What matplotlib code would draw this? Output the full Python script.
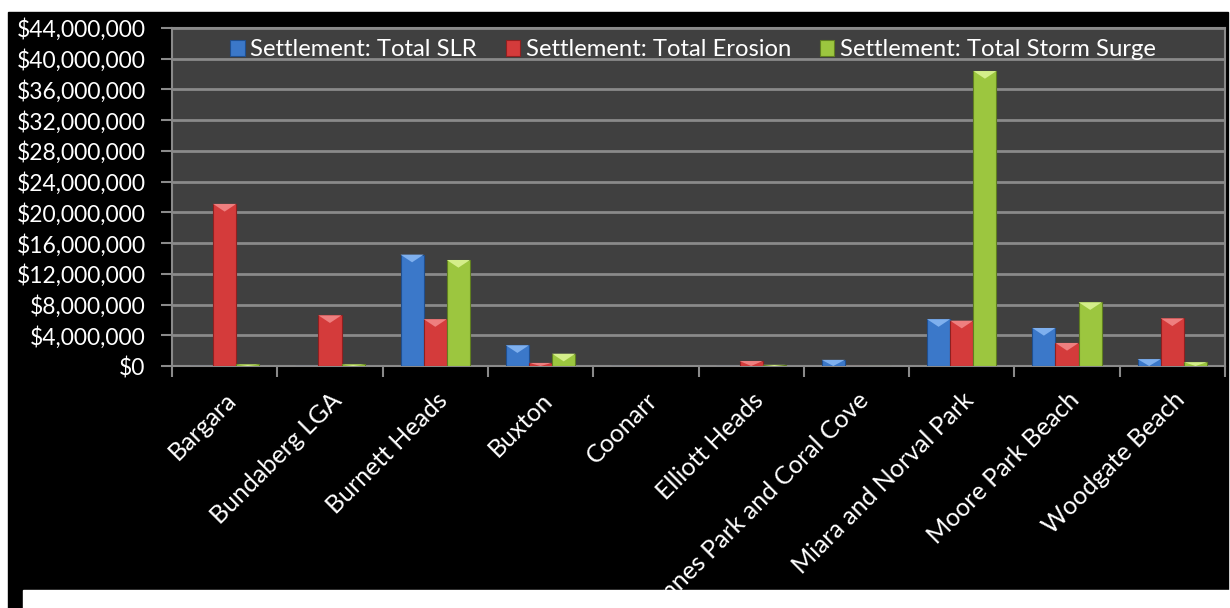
import numpy as np
import matplotlib.pyplot as plt
from matplotlib.patches import Rectangle, Polygon
from matplotlib.ticker import FuncFormatter, MultipleLocator
from matplotlib.transforms import ScaledTranslation

places = ['Bargara', 'Bundaberg LGA', 'Burnett Heads', 'Buxton', 'Coonarr',
          'Elliott Heads', 'Innes Park and Coral Cove', 'Miara and Norval Park',
          'Moore Park Beach', 'Woodgate Beach']
slr = [0, 0, 14.5e6, 2.7e6, 0, 0, 0.8e6, 6.1e6, 4.95e6, 0.9e6]
erosion = [21.1e6, 6.6e6, 6.1e6, 0.4e6, 0, 0.65e6, 0, 5.9e6, 3.0e6, 6.2e6]
surge = [0.2e6, 0.2e6, 13.8e6, 1.6e6, 0, 0.15e6, 0, 38.4e6, 8.3e6, 0.5e6]
names = ['Settlement: Total SLR', 'Settlement: Total Erosion', 'Settlement: Total Storm Surge']
colors = ['#3b78c9', '#d43b3b', '#9cc63f']
tops = ['#7fb0ee', '#ee7f7f', '#d4ee8a']
edges = ['#1f4f8f', '#8f2020', '#607f20']

plt.rcParams['font.family'] = ['Lato', 'DejaVu Sans']

fig = plt.figure(figsize=(12.3, 6.08), dpi=100, facecolor='white')
# black backdrop as in the screenshot
fig.patches.append(Rectangle((8 / 1230, 0), 1220 / 1230, 1 - 12 / 608,
                             transform=fig.transFigure, color='black', zorder=-2))
fig.patches.append(Rectangle((23 / 1230, 0), 1 - 23 / 1230, 18 / 608,
                             transform=fig.transFigure, color='white', zorder=-1))

ax = fig.add_axes([172 / 1230, 1 - 366 / 608, 1053 / 1230, 338 / 608])
ax.set_facecolor('#404040')

x = np.arange(len(places))
w = 0.22
depth = 1.0e6
for i, (vals, c, tc, ec, n) in enumerate(zip([slr, erosion, surge], colors, tops, edges, names)):
    bars = ax.bar(x + (i - 1) * w, vals, w, color=c, edgecolor=ec, linewidth=0.8,
                  label=n, zorder=3)
    # bevelled top like the Excel style
    for b in bars:
        h = b.get_height()
        if h <= 0:
            continue
        d = min(depth, h)
        x0, bw = b.get_x(), b.get_width()
        ax.add_patch(Polygon([(x0, h), (x0 + bw, h), (x0 + bw / 2, h - d)],
                             closed=True, color=tc, zorder=4, linewidth=0))

ax.set_xlim(-0.5, len(places) - 0.5)
ax.set_ylim(0, 44e6)
ax.yaxis.set_major_locator(MultipleLocator(4e6))
ax.yaxis.set_major_formatter(FuncFormatter(lambda v, p: '${:,.0f}'.format(v)))
ax.grid(axis='y', color='#8a8a8a', linewidth=2, zorder=1)

ax.set_xticks(x)
ax.set_xticklabels(places, rotation=45, ha='right', rotation_mode='anchor')
shift = ScaledTranslation(-6 / 100, 0, fig.dpi_scale_trans)
for lbl in ax.get_xticklabels():
    lbl.set_transform(lbl.get_transform() + shift)
ax.set_xticks(np.arange(-0.5, len(places)), minor=True)
ax.tick_params(axis='x', which='major', length=0, pad=16, labelcolor='white', labelsize=18)
ax.tick_params(axis='x', which='minor', length=8, width=1.5, color='#8a8a8a')
ax.tick_params(axis='y', length=8, width=1.5, color='#8a8a8a', labelcolor='white',
               labelsize=16.5, pad=11)

for s in ax.spines.values():
    s.set_color('#8a8a8a')
    s.set_linewidth(1.5)

leg = ax.legend(loc='upper center', bbox_to_anchor=(0.495, 1.03), ncol=3, frameon=False,
                fontsize=17.2, handlelength=0.6, handleheight=0.6, handletextpad=0.25,
                columnspacing=1.2, labelcolor='white')

fig.savefig('out.png', dpi=100, facecolor=fig.get_facecolor())
